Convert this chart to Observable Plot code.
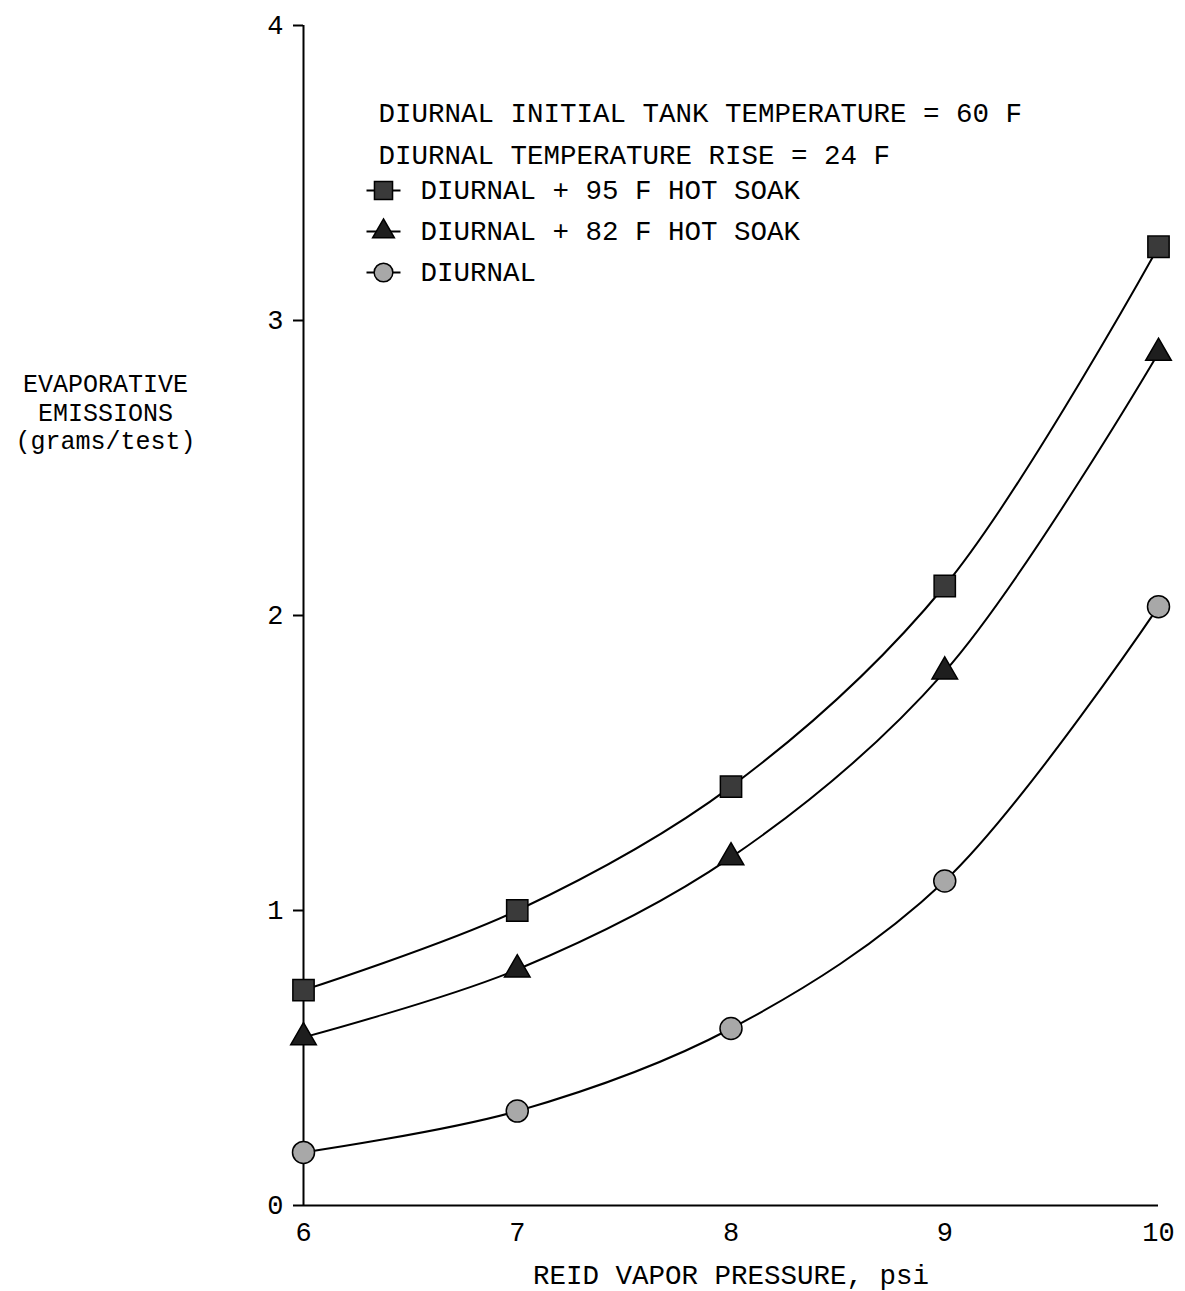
<!DOCTYPE html>
<html>
<head>
<meta charset="utf-8">
<script src="https://cdn.jsdelivr.net/npm/d3@7"></script>
<script src="https://cdn.jsdelivr.net/npm/@observablehq/plot@0.6"></script>
<style>
  html, body { margin: 0; padding: 0; background: #fff; }
  #chart svg { display: block; }
</style>
</head>
<body>
<div id="chart"></div>
<script>
const rvp = [6, 7, 8, 9, 10];
const hot95 = [0.73, 1.00, 1.42, 2.10, 3.25];
const hot82 = [0.57, 0.80, 1.18, 1.81, 2.89];
const diurnal = [0.18, 0.32, 0.60, 1.10, 2.03];
const seriesNames = ["DIURNAL + 95 F HOT SOAK", "DIURNAL + 82 F HOT SOAK", "DIURNAL"];
const headerLines = ["DIURNAL INITIAL TANK TEMPERATURE = 60 F", "DIURNAL TEMPERATURE RISE = 24 F"];
const xTicks = [6, 7, 8, 9, 10];
const yTicks = [0, 1, 2, 3, 4];
const xLabel = "REID VAPOR PRESSURE, psi";
const yLabel = "EVAPORATIVE\nEMISSIONS\n(grams/test)";

const FONT = "Liberation Mono, Courier New, monospace";

const styles = [
  {symbol: "square", r: 12, fill: "#3a3a3a"},
  {symbol: "triangle", r: 9.5, fill: "#1e1e1e"},
  {symbol: "circle", r: 11, fill: "#a8a8a8"}
];
const values = [hot95, hot82, diurnal];
const series = seriesNames.map((name, i) =>
  rvp.map((x, j) => ({x, y: values[i][j], name}))
);

const dash = {draw(ctx) { ctx.moveTo(-17, 0); ctx.lineTo(17, 0); }};

const marks = [
  Plot.ruleX([6], {stroke: "#000", strokeWidth: 2}),
  Plot.ruleY([0], {stroke: "#000", strokeWidth: 2}),
  Plot.axisY({ticks: yTicks, tickSize: 10, tickPadding: 10, tickFormat: d => String(d), label: null, fontSize: 27, strokeWidth: 2}),
  Plot.axisX({ticks: xTicks, tickSize: 0, tickPadding: 16, tickFormat: d => String(d), label: null, fontSize: 27}),
];

series.forEach((data) => {
  marks.push(Plot.line(data, {x: "x", y: "y", curve: "catmull-rom", stroke: "#000", strokeWidth: 2}));
});
series.forEach((data, i) => {
  const s = styles[i];
  marks.push(Plot.dot(data, {x: "x", y: "y", symbol: s.symbol, r: s.r, fill: s.fill, stroke: "#000", strokeWidth: 1.5}));
});

// header text
headerLines.forEach((t, i) => {
  marks.push(Plot.text([t], {frameAnchor: "top-left", dx: 75, dy: 88 + i * 42, textAnchor: "start", lineAnchor: "middle", fontSize: 27.5, fill: "#000"}));
});
// legend entries
seriesNames.forEach((name, i) => {
  const s = styles[i];
  const dy = 165 + i * 41;
  marks.push(Plot.dot([name], {frameAnchor: "top-left", dx: 80, dy, symbol: dash, r: 10, fill: "none", stroke: "#000", strokeWidth: 2}));
  marks.push(Plot.dot([name], {frameAnchor: "top-left", dx: 80, dy, symbol: s.symbol, r: s.r * 0.85, fill: s.fill, stroke: "#000", strokeWidth: 1.5}));
  marks.push(Plot.text([name], {frameAnchor: "top-left", dx: 117, dy, textAnchor: "start", lineAnchor: "middle", fontSize: 27.5, fill: "#000"}));
});
// axis labels
marks.push(Plot.text([yLabel], {frameAnchor: "top-left", dx: -198, dy: 386, textAnchor: "middle", lineAnchor: "middle", lineHeight: 1.15, fontSize: 25, fill: "#000"}));
marks.push(Plot.text([xLabel], {frameAnchor: "bottom", dy: 70, textAnchor: "middle", lineAnchor: "middle", fontSize: 27.5, fill: "#000"}));

const chart = Plot.plot({
  width: 1185,
  height: 1291,
  marginLeft: 303,
  marginRight: 27,
  marginTop: 25,
  marginBottom: 86,
  style: {fontFamily: FONT, color: "#000", background: "#fff"},
  x: {domain: [6, 10]},
  y: {domain: [0, 4]},
  marks
});
document.getElementById("chart").appendChild(chart);
</script>
</body>
</html>
